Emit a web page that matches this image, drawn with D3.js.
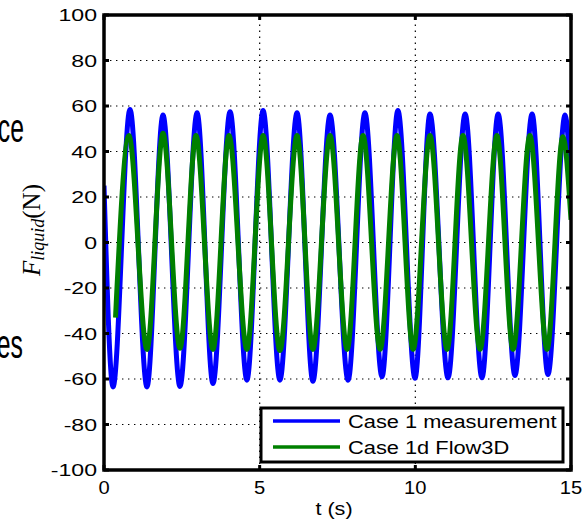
<!DOCTYPE html>
<html>
<head>
<meta charset="utf-8">
<script src="https://cdn.jsdelivr.net/npm/d3@7"></script>
<style>
  body { margin: 0; background: #fff; }
  svg { display: block; }
  text { font-family: "Liberation Sans", Arial, sans-serif; fill: #000; }
</style>
</head>
<body>
<svg id="chart" width="585" height="520"></svg>
<script>
const blueT = [0, 0.29, 0.835, 1.38, 1.895, 2.44, 2.99, 3.50, 4.05, 4.59, 5.11, 5.65, 6.20, 6.71, 7.26, 7.84, 8.38, 8.93, 9.44, 9.99, 10.47, 11.05, 11.60, 12.14, 12.66, 13.20, 13.75, 14.26, 14.81, 15];
const blueF = [25, -63.5, 58.5, -63.5, 56, -63.3, 57, -62, 57.5, -60.5, 58, -60.5, 57, -61, 56, -60.5, 57, -59, 58, -59.7, 56.5, -59.5, 56.5, -59.5, 56.5, -58.5, 56.5, -58, 56, 24];

// Flow3D simulation
const greenT = [0.37, 0.80, 1.38, 1.895, 2.44, 2.955, 3.50, 4.015, 4.59, 5.11, 5.65, 6.20, 6.71, 7.26, 7.81, 8.32, 8.87, 9.41, 9.93, 10.47, 11.02, 11.53, 12.08, 12.62, 13.14, 13.68, 14.23, 14.74, 15];
const greenF = [-33, 47, -47, 48, -46.5, 47, -47, 47, -47, 47, -47.5, 47, -47, 47, -47, 47, -47, 47, -47, 47, -47, 47, -47, 47, -47, 47, -47, 46.5, 10];

const xTicks = [0, 5, 10, 15];
const yTicks = [-100, -80, -60, -40, -20, 0, 20, 40, 60, 80, 100];
const seriesNames = ["Case 1 measurement", "Case 1d Flow3D"];
const seriesColors = ["#0000ff", "#008000"];

const svg = d3.select("#chart");
const x = d3.scaleLinear().domain([0, 15]).range([104, 571]);
const y = d3.scaleLinear().domain([-100, 100]).range([470, 15]);

// stretched text helper (source figure fonts are wide)
function label(g, px, py, str, size, sx, anchor) {
  return g.append("text")
    .attr("transform", `translate(${px},${py}) scale(${sx},1)`)
    .attr("text-anchor", anchor)
    .style("font-size", size + "px")
    .text(str);
}

// clipped text from the neighbouring slide content
label(svg, 24, 142, "ce", 40, 0.62, "end");
label(svg, 23, 358, "es", 40, 0.62, "end");

// grid
const grid = svg.append("g")
  .attr("stroke", "#000").attr("stroke-width", 1.2).attr("stroke-dasharray", "1.4 4.6");
grid.selectAll(".gy").data(yTicks.filter(d => d > -100 && d < 100)).join("line")
  .attr("x1", x(0)).attr("x2", x(15)).attr("y1", d => y(d)).attr("y2", d => y(d));
grid.selectAll(".gx").data(xTicks.filter(d => d > 0 && d < 15)).join("line")
  .attr("y1", y(-100)).attr("y2", y(100)).attr("x1", d => x(d)).attr("x2", d => x(d));

// curves
svg.append("clipPath").attr("id", "plot-clip").append("rect")
  .attr("x", x(0)).attr("y", y(100)).attr("width", x(15) - x(0)).attr("height", y(-100) - y(100));

const line = d3.line().x(d => x(d[0])).y(d => y(d[1])).curve(d3.curveMonotoneX);
const plot = svg.append("g").attr("clip-path", "url(#plot-clip)").attr("fill", "none");
plot.append("path").datum(d3.zip(blueT, blueF))
  .attr("stroke", seriesColors[0]).attr("stroke-width", 5).attr("stroke-linejoin", "round").attr("d", line);
plot.append("path").datum(d3.zip(greenT, greenF))
  .attr("stroke", seriesColors[1]).attr("stroke-width", 5).attr("stroke-linejoin", "round").attr("d", line);

// frame and ticks
const axes = svg.append("g").attr("stroke", "#000");
axes.append("rect")
  .attr("x", x(0)).attr("y", y(100)).attr("width", x(15) - x(0)).attr("height", y(-100) - y(100))
  .attr("fill", "none").attr("stroke-width", 3.5);
axes.selectAll(".tl").data(yTicks).join("line").attr("stroke-width", 3)
  .attr("x1", x(0)).attr("x2", x(0) + 5).attr("y1", d => y(d)).attr("y2", d => y(d));
axes.selectAll(".tr").data(yTicks).join("line").attr("stroke-width", 3)
  .attr("x1", x(15)).attr("x2", x(15) - 5).attr("y1", d => y(d)).attr("y2", d => y(d));
axes.selectAll(".tb").data(xTicks).join("line").attr("stroke-width", 3)
  .attr("y1", y(-100)).attr("y2", y(-100) - 5).attr("x1", d => x(d)).attr("x2", d => x(d));
axes.selectAll(".tt").data(xTicks).join("line").attr("stroke-width", 3)
  .attr("y1", y(100)).attr("y2", y(100) + 5).attr("x1", d => x(d)).attr("x2", d => x(d));

// tick labels
const yLab = svg.append("g");
yTicks.forEach(d => label(yLab, 97, y(d) + 6, d, 16.5, 1.4, "end"));
const xLab = svg.append("g");
xTicks.forEach(d => label(xLab, x(d), 494, d, 18, 1.12, "middle"));

// axis titles
label(svg, 334, 515, "t (s)", 18, 1.2, "middle");
const yt = svg.append("text")
  .attr("transform", "translate(40,230) rotate(-90)")
  .attr("text-anchor", "middle")
  .style("font-family", "'Liberation Serif', 'Times New Roman', serif")
  .style("font-size", "25px");
yt.append("tspan").style("font-style", "italic").text("F");
yt.append("tspan").style("font-style", "italic").style("font-size", "18px").attr("dy", 4).text("liquid");
yt.append("tspan").attr("dy", -4).text("(N)");

// legend
const lg = svg.append("g");
lg.append("rect").attr("x", 261).attr("y", 408).attr("width", 302).attr("height", 54)
  .attr("fill", "#fff").attr("stroke", "#000").attr("stroke-width", 3);
seriesNames.forEach((name, i) => {
  const ly = 421 + i * 26;
  lg.append("line").attr("x1", 273).attr("x2", 340).attr("y1", ly).attr("y2", ly)
    .attr("stroke", seriesColors[i]).attr("stroke-width", 3.5);
  label(lg, 348, ly + 7, name, 18.5, 1.18, "start");
});
</script>
</body>
</html>
